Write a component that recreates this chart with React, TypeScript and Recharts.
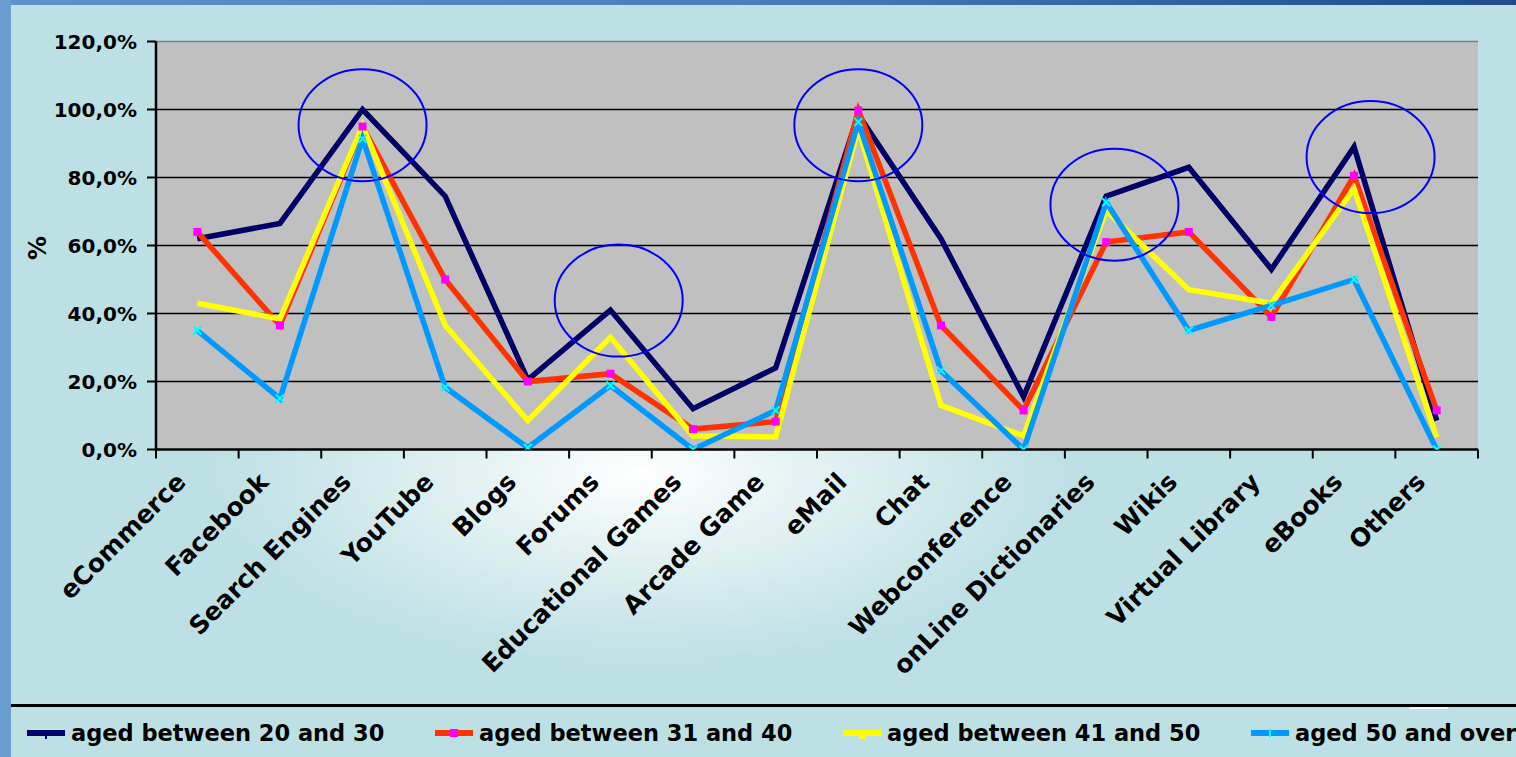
import React from 'react';
import { LineChart, Line, XAxis, YAxis, CartesianGrid, ReferenceDot, ReferenceLine } from 'recharts';

const categories = [
  'eCommerce', 'Facebook', 'Search Engines', 'YouTube', 'Blogs', 'Forums',
  'Educational Games', 'Arcade Game', 'eMail', 'Chat', 'Webconference',
  'onLine Dictionaries', 'Wikis', 'Virtual Library', 'eBooks', 'Others',
];
const aged20to30 = [62, 66.5, 100, 74.5, 20.5, 41, 12, 24, 98.5, 62, 15.5, 74.5, 83, 53, 89, 8.5];
const aged31to40 = [64, 36.5, 95, 50, 20, 22.3, 6, 8.2, 99.7, 36.5, 11.5, 61, 64, 39, 80.5, 11.5];
const aged41to50 = [43, 38.4, 95.3, 36.5, 8.5, 33, 4, 3.7, 94.3, 13, 4, 70.3, 47, 43, 76.7, 3.6];
const aged50plus = [35, 15, 91.4, 18.3, 0.5, 18.8, 0, 11.5, 96.3, 23.2, 0, 72.7, 35, 42.4, 50, 0];

const seriesKeys = ['s1', 's2', 's3', 's4'];
const seriesNames = ['aged between 20 and 30', 'aged between 31 and 40', 'aged between 41 and 50', 'aged 50 and over'];
const seriesColors = ['#000066', '#ff3300', '#ffff00', '#0099ff'];
const markerColors = ['#000066', '#ff00ff', '#ffff00', '#00ffff'];

const yTicks = [0, 20, 40, 60, 80, 100, 120];

const highlightCats = ['Search Engines', 'Forums', 'eMail', 'onLine Dictionaries', 'eBooks'];
const highlightY = [95.4, 43.8, 95.4, 72, 86];
const highlightShift = [0, 0.1, 0, 0.1, 0.2];

const data = categories.map((name, i) => ({
  name,
  s1: aged20to30[i],
  s2: aged31to40[i],
  s3: aged41to50[i],
  s4: aged50plus[i],
}));

const FONT = '"DejaVu Sans", Verdana, sans-serif';

const CatTick = (props: any) => {
  const { x, y, payload, index } = props;
  const half = payload && payload.offset ? payload.offset : 41.3;
  const px = x - 10;
  const py = y + 34;
  return (
    <g>
      <line x1={x - half} x2={x - half} y1={y} y2={y + 9} stroke="#000" strokeWidth={2} />
      {index === categories.length - 1 && (
        <line x1={x + half} x2={x + half} y1={y} y2={y + 9} stroke="#000" strokeWidth={2} />
      )}
      <text
        x={px}
        y={py}
        transform={`rotate(-45 ${px} ${py})`}
        textAnchor="end"
        fontSize={25}
        fontWeight="bold"
        fontFamily={FONT}
        fill="#000"
      >
        {payload.value}
      </text>
    </g>
  );
};

const makeDot = (si: number) => (p: any) => {
  const { cx, cy, index } = p;
  if (cx == null || cy == null) return <g key={`d${si}-${index}`} />;
  if (si === 1) {
    return <rect key={`d${si}-${index}`} x={cx - 4} y={cy - 4} width={8} height={8} fill={markerColors[1]} />;
  }
  if (si === 3) {
    return (
      <g key={`d${si}-${index}`}>
        <line x1={cx - 4} x2={cx + 4} y1={cy - 4} y2={cy + 4} stroke={markerColors[3]} strokeWidth={2} />
        <line x1={cx - 4} x2={cx + 4} y1={cy + 4} y2={cy - 4} stroke={markerColors[3]} strokeWidth={2} />
      </g>
    );
  }
  return <g key={`d${si}-${index}`} />;
};

const LegendIcon = ({ i }: { i: number }) => (
  <svg width={38} height={14} style={{ display: 'block' }}>
    <line x1={0} x2={38} y1={7} y2={7} stroke={seriesColors[i]} strokeWidth={6} />
    {i === 0 && <line x1={19} x2={19} y1={7} y2={13} stroke={markerColors[0]} strokeWidth={2} />}
    {i === 1 && <rect x={15} y={3} width={8} height={8} fill={markerColors[1]} />}
    {i === 2 && <rect x={16} y={7} width={6} height={6} fill={markerColors[2]} />}
    {i === 3 && <line x1={19} x2={19} y1={3} y2={11} stroke={markerColors[3]} strokeWidth={2} />}
  </svg>
);

export default function App() {
  return (
    <div
      style={{
        position: 'absolute',
        left: 0,
        top: 0,
        width: 1516,
        height: 757,
        overflow: 'hidden',
        background: '#bde0e4',
        fontFamily: FONT,
      }}
    >
      <div
        style={{
          position: 'absolute',
          left: 11,
          top: 5,
          width: 1505,
          height: 752,
          background:
            'radial-gradient(ellipse 430px 190px at 630px 470px, #ffffff 0%, #e6f3f4 35%, #bde0e4 100%)',
        }}
      />
      <div
        style={{
          position: 'absolute',
          left: 0,
          top: 0,
          width: 1516,
          height: 5,
          background: 'linear-gradient(90deg, #5f92c9 0%, #4a7db9 50%, #1f4b8c 100%)',
        }}
      />
      <div style={{ position: 'absolute', left: 0, top: 0, width: 11, height: 757, background: '#6a9dcf' }} />

      <div style={{ position: 'absolute', left: 0, top: 0 }}>
        <LineChart
          width={1516}
          height={757}
          data={data}
          margin={{ top: 41.5, right: 38, left: 56, bottom: 67.5 }}
        >
          <CartesianGrid
            vertical={false}
            stroke="#000"
            strokeWidth={1.3}
            fill="#c0c0c0"
            fillOpacity={1}
            horizontalValues={[20, 40, 60, 80, 100]}
          />
          <XAxis
            xAxisId="cat"
            dataKey="name"
            type="category"
            scale="band"
            interval={0}
            height={240}
            tickLine={false}
            tickSize={0}
            tickMargin={0}
            axisLine={{ stroke: '#000', strokeWidth: 2.5 }}
            tick={<CatTick />}
          />
          <YAxis
            domain={[0, 120]}
            ticks={yTicks}
            interval={0}
            width={100}
            allowDataOverflow
            tickFormatter={(v: number) => v.toFixed(1).replace('.', ',') + '%'}
            tick={{ fill: '#000', fontSize: 20, fontWeight: 'bold', fontFamily: FONT }}
            tickSize={9}
            tickMargin={10}
            axisLine={{ stroke: '#000', strokeWidth: 2.5 }}
            tickLine={{ stroke: '#000', strokeWidth: 2 }}
          />
          <YAxis
            yAxisId="r"
            orientation="right"
            domain={[0, 120]}
            width={0}
            tick={false}
            tickLine={false}
            axisLine={{ stroke: '#808080', strokeWidth: 1.5 }}
          />
          <ReferenceLine xAxisId="cat" y={120} stroke="#808080" strokeWidth={1.5} />
          {seriesKeys.map((k, si) => (
            <Line
              key={k}
              xAxisId="cat"
              type="linear"
              dataKey={k}
              name={seriesNames[si]}
              stroke={seriesColors[si]}
              strokeWidth={5.5}
              dot={makeDot(si)}
              activeDot={false}
              isAnimationActive={false}
            />
          ))}
          {highlightCats.map((c, i) => (
            <ReferenceDot
              key={c}
              xAxisId="cat"
              x={c}
              y={highlightY[i]}
              r={1}
              ifOverflow="visible"
              shape={(p: any) => (
                <ellipse
                  cx={p.cx + highlightShift[i] * 82.6}
                  cy={p.cy}
                  rx={64}
                  ry={56}
                  fill="none"
                  stroke="#0000ff"
                  strokeWidth={2}
                />
              )}
            />
          ))}
        </LineChart>
      </div>

      <div
        style={{
          position: 'absolute',
          left: 38,
          top: 248,
          transform: 'translate(-50%, -50%) rotate(-90deg)',
          fontSize: 24,
          fontWeight: 'bold',
          color: '#000',
          whiteSpace: 'nowrap',
        }}
      >
        %
      </div>

      <div style={{ position: 'absolute', left: 11, top: 704, width: 1505, height: 2.5, background: '#000' }} />
      <div style={{ position: 'absolute', left: 1410, top: 707, width: 38, height: 2, background: '#f2f8f8' }} />
      {seriesNames.map((n, i) => (
        <div
          key={n}
          style={{
            position: 'absolute',
            left: 27 + i * 408,
            top: 720,
            height: 26,
            display: 'flex',
            alignItems: 'center',
            whiteSpace: 'nowrap',
          }}
        >
          <LegendIcon i={i} />
          <span
            style={{
              marginLeft: 6,
              fontSize: 22.5,
              lineHeight: '26px',
              fontWeight: 'bold',
              color: '#000',
            }}
          >
            {n}
          </span>
        </div>
      ))}
    </div>
  );
}
